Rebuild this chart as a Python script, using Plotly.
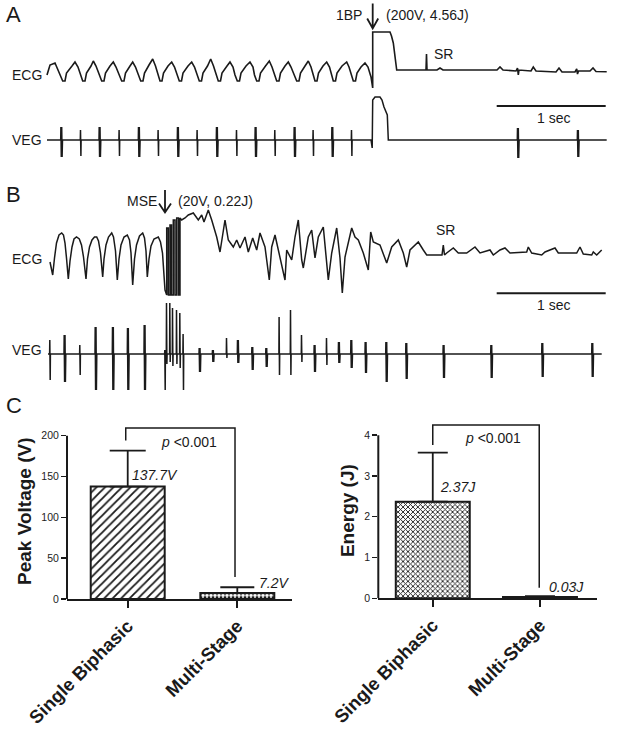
import plotly.graph_objects as go

W, H = 617, 731
FS = 109
INK = "#1a1a1a"
FONT = "Liberation Sans, Arial, sans-serif"

# ---------------- panel A : single biphasic shock ----------------
# surface ECG, (sample, amplitude)
ecg_a = [
    (7, -5), (10, 5), (15, 7), (19, -2), (22.7, -11), (25, -11), (26.5, -3), (32, 4), (35, 8), (38, 3), (40.5, -5),
    (42.7, -11), (45, -11), (46.5, -3), (51, 4), (53.3, 9), (56, 4), (59.5, -5),
    (61.7, -11), (64, -11), (65.5, -3), (70, 4), (73.3, 8), (76, 3), (79.5, -5),
    (81.7, -11), (84, -11), (85.5, -3), (90, 4), (92.7, 8), (95.5, 3), (98.5, -5),
    (100.7, -11), (103, -11), (104.5, -3), (109, 5), (112.7, 11), (115.5, 4), (118, -5),
    (120, -11), (122, -11), (123.5, -3), (128, 4), (131.7, 8), (134.5, 3), (137, -5),
    (139.3, -11), (141.5, -11), (143, -3), (148, 4), (151.7, 8), (154.5, 3), (157, -5),
    (159.3, -11), (161.5, -11), (163, -3), (167.5, 4), (170.7, 11), (173.5, 4), (176, -5),
    (178.3, -11), (180.5, -11), (182, -3), (187, 4), (190, 8), (193, 3), (195, -5),
    (197.3, -11), (199.5, -11), (201, -3), (206, 4), (210, 8), (213, 3), (214.5, -5),
    (216.7, -11), (219, -11), (220.5, -3), (225.5, 4), (229.3, 9), (232, 3), (234.5, -5),
    (236.7, -11), (239, -11), (240.5, -3), (245, 4), (248.3, 8), (251, 3), (254.5, -5),
    (256.7, -11), (259, -11), (260.5, -3), (265, 4), (268.3, 9), (271, 3), (273, -5),
    (275, -11), (277, -11), (278.5, -3), (283, 4), (286.7, 8), (289.5, 3), (291.5, -5),
    (293.3, -11), (295.5, -11), (297, -3), (302, 4), (306.7, 8), (309, 3), (311.5, -5),
    (313.3, -11), (315.5, -11), (317, -3), (321, 3), (325, 7), (328, 3), (331, -7),
    (332.7, -18), (332.7, 38), (350, 38), (351.5, 34), (353.3, 27), (355, 15), (356.7, 0),
    (386, 0), (386.5, 16), (387, 0), (397, 0), (400, 2), (403, 0),
    (457, 0), (460, 3), (463, 0), (476, -1), (477.5, 2), (478.3, -5), (479, 0),
    (491, -1), (493.3, 3), (496, -1), (516, -2), (519, 2), (522, -2),
    (535, -2), (536.7, 1), (537.5, -4), (538.5, -1), (550, -1), (553, 2), (556, -1.5), (566.7, -1.7),
]
# ventricular electrogram: paced spikes + shock artefact
veg_a_spike_t = [21.7, 40.7, 60, 79.3, 99.3, 118.3, 138.3, 157.3, 177.3, 196.7,
                 216, 235, 255, 273.3, 292.7, 311.7, 478.3, 538.3]
veg_a_spike_up = [13, 10, 13, 10, 13, 10, 13, 10, 13, 10, 13, 10, 13, 10, 13, 10, 12, 10]
veg_a_spike_dn = [-17, -16, -17, -16, -17, -16, -17, -16, -17, -16, -17, -16, -17, -16, -17, -16, -18, -17]
veg_a_wide = [1, 0, 1, 0, 1, 0, 1, 0, 1, 0, 1, 0, 1, 0, 1, 0, 1, 1]
veg_a_shock = [(331, 0), (332.2, -8), (332.7, 40), (335, 43), (340, 43), (342, 40),
               (344, 33), (346, 28), (347.3, 25), (348.3, 0)]

# ---------------- panel B : multi-stage electrotherapy ----------------
ecg_b = [
    (10, -9), (12.7, -22), (14.5, -5), (16.5, 10), (19, 18), (21.7, 20), (23.5, 18), (25, 10), (26.5, -5), (28.3, -26),
    (30, -8), (32, 6), (34, 14), (36.5, 16), (39.3, 14), (41.5, 8), (43.5, -4), (46, -26),
    (47.5, -6), (49.5, 6), (52, 13), (54.5, 16), (56.7, 16), (58.5, 12), (60.5, 0), (62.7, -24),
    (64, -6), (66, 8), (68.5, 16), (71.7, 20), (73.5, 16), (75.5, 2), (77.3, -27),
    (79, -6), (81, 8), (84, 16), (87.3, 18), (89.5, 13), (91, 0), (92.7, -32),
    (94.5, -6), (96.5, 8), (99.5, 17), (102.7, 20), (104.5, 15), (106, 2), (107.3, -24),
    (109, -6), (111, 7), (114, 14), (118.3, 16), (120.5, 11), (122.5, 0), (125, -37),
    (126.7, -42), (126.7, 25), (128.3, 25), (128.3, -42), (130, -42), (130, 28), (131.5, 28),
    (131.5, -42), (133.3, -42), (133.3, 33), (135, 33), (135, -42), (136.7, -42), (136.7, 35),
    (138.5, 35), (138.5, -42), (140, -42), (140, 35),
    (141.7, 33), (145, 35), (148.3, 38), (153.3, 40), (158.3, 33), (161.7, 38), (164, 31),
    (168.3, 43), (171.7, 33), (176.7, 16), (180, 1), (182.7, 16), (185, 33), (188.3, 13),
    (193.3, 6), (196.7, 13), (200, 5), (205, 16), (208.3, 1), (212.7, 15), (216.7, 3),
    (220, 20), (225, 6), (229.3, -27), (231.7, 6), (235, 18), (240, -4), (245, -27),
    (246.7, 3), (251.7, -7), (255, 16), (258.3, 33), (261.7, -7), (263.3, -15), (268.3, 16),
    (271.7, 23), (275, -5), (278.3, 16), (283.3, 26), (288.3, -27), (291.7, 0), (296.7, 25),
    (300, -5), (302.3, -40), (305, -4), (311.7, 25), (315, 16), (318.3, 13), (323.3, 0),
    (328.3, -17), (330.7, 21), (333.3, 11), (340, 8), (346.7, -10), (351.7, 6), (358.3, 13),
    (363.3, 0), (366.7, -14), (370, 3), (378.3, 11), (383.3, 3), (386.7, -2), (393.3, -2),
    (402, -2), (403.3, 8), (404.5, -2), (406.7, 0), (413.3, 5), (418.3, 0), (426.7, 0),
    (435, 6), (440, 0), (450, 3), (453.3, -2), (460, 3), (465, 5), (470, 0), (486.7, 1),
    (488.3, 6), (491.7, 0), (501.7, -2), (505, 1), (515, 5), (518.3, 0), (536.7, 0),
    (540, 6), (543.3, -1), (551.7, -2), (553.3, 1), (556.7, -2), (561.7, 3),
]
veg_b_spike_t = [10, 25, 40, 56, 73.3, 88.3, 105,
                 125, 126.7, 130, 132.7, 136.7, 140, 143.3,
                 160, 173.3, 186.7, 198.3, 212.7, 226.7, 239.3, 250.7, 261.7, 275,
                 286.7, 299.3, 311.7, 326, 346.7, 366.7, 404, 451.7, 502.7, 552.7]
veg_b_spike_up = [14, 19, 9, 27, 27, 26, 29,
                  4, 51, 51, 46, 44, 41, 20,
                  6, 4, 16, 14, 7, 6, 37, 44, 19, 9,
                  16, 12, 14, 12, 12, 11, 9, 9, 11, 11]
veg_b_spike_dn = [-26, -28, -21, -36, -36, -36, -36,
                  -36, -10, -8, -12, -10, -14, -36,
                  -18, -8, -4, -9, -16, -13, -21, -21, -8, -18,
                  -11, -9, -14, -19, -28, -25, -24, -24, -23, -23]
veg_b_wide = [0, 1, 0, 1, 1, 1, 1,
              0, 0, 0, 0, 0, 0, 0,
              1, 1, 0, 1, 1, 1, 0, 0, 0, 1,
              0, 1, 1, 1, 1, 1, 1, 1, 1, 1]

# ---------------- panel C : bar charts ----------------
groups = ["Single Biphasic", "Multi-Stage"]
voltage_mean = [137.7, 7.2]
voltage_sd = [44.0, 7.2]
energy_mean = [2.37, 0.03]
energy_sd = [1.2, 0.02]


def px(x):
    return x / W


def py(y):
    return 1 - y / H


def spike_train(times, up, dn, wide, start, end, extra=()):
    pts = [(start, 0), (end, 0)] + list(extra)
    for t, u, d, w in zip(times, up, dn, wide):
        if w:
            pts += [(t - 1, 0), (t - 0.8, u), (t - 0.4, d), (t, u), (t + 0.4, d), (t + 0.8, 0)]
        else:
            pts += [(t - 0.4, 0), (t - 0.2, u), (t + 0.2, d), (t + 0.4, 0)]
    pts.sort(key=lambda p: p[0])
    return [p[0] for p in pts], [p[1] for p in pts]


fig = go.Figure()


def add_line(t, v, ya, width=1.5):
    fig.add_trace(go.Scatter(x=list(t), y=list(v), mode="lines", xaxis="x", yaxis=ya,
                             line=dict(color=INK, width=width), hoverinfo="skip", showlegend=False))


add_line(*zip(*ecg_a), "y", width=1.6)
add_line(*spike_train(veg_a_spike_t, veg_a_spike_up, veg_a_spike_dn, veg_a_wide, 7, 566.7, veg_a_shock), "y2")
add_line(*zip(*ecg_b), "y3", width=1.5)
add_line(*spike_train(veg_b_spike_t, veg_b_spike_up, veg_b_spike_dn, veg_b_wide, 8, 561.7), "y4")


def add_bar(i, mean, sd, xa, ya, width, cap, marker):
    fig.add_trace(go.Bar(
        x=[i], y=[mean[i]], width=width, xaxis=xa, yaxis=ya, marker=marker,
        error_y=dict(type="data", symmetric=False, array=[sd[i]], arrayminus=[0],
                     color=INK, thickness=1.8, width=cap),
        hoverinfo="skip", showlegend=False))


outline = dict(color=INK, width=2)
add_bar(0, voltage_mean, voltage_sd, "x2", "y5", 0.675, 18,
        dict(color="white", line=outline,
             pattern=dict(shape="/", fgcolor=INK, bgcolor="white", size=6, solidity=0.3)))
add_bar(1, voltage_mean, voltage_sd, "x2", "y5", 0.675, 17,
        dict(color="white", line=outline,
             pattern=dict(shape=".", fgcolor=INK, bgcolor="white", size=4, solidity=0.45)))
add_bar(0, energy_mean, energy_sd, "x3", "y6", 0.69, 15,
        dict(color="white", line=outline,
             pattern=dict(shape="x", fgcolor=INK, bgcolor="white", size=3.5, solidity=0.45)))
add_bar(1, energy_mean, energy_sd, "x3", "y6", 0.69, 15,
        dict(color=INK, line=outline))

hidden = dict(visible=False, fixedrange=True, automargin=False)
bold_ticks = ["<b>%s</b>" % g for g in groups]
xbar = dict(tickvals=[0, 1], ticktext=bold_ticks, tickangle=-45, ticks="outside", ticklen=7,
            tickwidth=2, tickcolor=INK, showline=True, linewidth=2, linecolor=INK, automargin=False,
            tickfont=dict(size=18.5, color=INK), showgrid=False, zeroline=False, fixedrange=True)
ybar = dict(ticks="outside", ticklen=5, tickwidth=1.5, tickcolor=INK, showline=False, automargin=False,
            showgrid=False, zeroline=False, tickfont=dict(size=10.5, color="#222222"), fixedrange=True)

fig.update_layout(
    template="none",
    width=W, height=H, margin=dict(l=0, r=0, t=0, b=0, pad=0, autoexpand=False),
    paper_bgcolor="white", plot_bgcolor="rgba(0,0,0,0)",
    font=dict(family=FONT, color=INK, size=14), showlegend=False,
    xaxis=dict(domain=[0, 1], range=[-40, W - 40], anchor="y", **hidden),
    yaxis=dict(domain=[py(100), py(20)], range=[-30, 50], anchor="x", **hidden),
    yaxis2=dict(domain=[py(162), py(92)], range=[-22, 48], anchor="x", **hidden),
    yaxis3=dict(domain=[py(300), py(205)], range=[-47, 48], anchor="x", **hidden),
    yaxis4=dict(domain=[py(395), py(298)], range=[-41, 56], anchor="x", **hidden),
    xaxis2=dict(domain=[px(67), px(292)], range=[-0.554, 1.499], anchor="y5", **xbar),
    yaxis5=dict(domain=[py(599), py(423.4)], range=[0, 215], anchor="x2",
                tickvals=[0, 50, 100, 150, 200],
                title=dict(text="<b>Peak Voltage (V)</b>", font=dict(size=19, color=INK), standoff=4), **ybar),
    xaxis3=dict(domain=[px(378.3), px(596.7)], range=[-0.508, 1.529], anchor="y6", **xbar),
    yaxis6=dict(domain=[py(598.3), py(422.9)], range=[0, 4.3], anchor="x3",
                tickvals=[0, 1, 2, 3, 4],
                title=dict(text="<b>Energy (J)</b>", font=dict(size=19, color=INK), standoff=4), **ybar),
)


def arrow(xp, y_top, y_bot, head=10, half=5.5):
    x = px(xp)
    path = (f"M {x},{py(y_top)} L {x},{py(y_bot)} "
            f"M {px(xp - half)},{py(y_bot - head)} L {x},{py(y_bot)} L {px(xp + half)},{py(y_bot - head)}")
    return dict(type="path", xref="paper", yref="paper", path=path, line=dict(color=INK, width=1.8))


scale_start = 456.7
shapes = [
    # 1 sec scale bars (FS samples long)
    dict(type="line", xref="x", yref="paper", x0=scale_start, x1=scale_start + FS,
         y0=py(106), y1=py(106), line=dict(color=INK, width=2)),
    dict(type="line", xref="x", yref="paper", x0=scale_start, x1=scale_start + FS,
         y0=py(293.3), y1=py(293.3), line=dict(color=INK, width=2)),
    arrow(372.7, 3.5, 28.5),
    arrow(165, 190, 212.5, head=9, half=6),
    # y axis lines of the bar charts (stop at the top tick)
    dict(type="line", xref="x2 domain", yref="y5", x0=0, x1=0, y0=0, y1=200,
         line=dict(color=INK, width=2)),
    dict(type="line", xref="x3 domain", yref="y6", x0=0, x1=0, y0=0, y1=4,
         line=dict(color=INK, width=2)),
    # significance brackets
    dict(type="path", xref="x2", yref="y5", path="M -0.018,194 L -0.018,209.4 L 0.979,209.4 L 0.979,27",
         line=dict(color=INK, width=1.5)),
    dict(type="path", xref="x3", yref="y6", path="M 0,3.76 L 0,4.25 L 0.993,4.25 L 0.993,0.26",
         line=dict(color=INK, width=1.5)),
]
fig.update_layout(shapes=shapes)


def note(text, x, y, xref="paper", yref="paper", size=14, xanchor="left", yanchor="middle"):
    fig.add_annotation(text=text, x=x, y=y, xref=xref, yref=yref, showarrow=False,
                       xanchor=xanchor, yanchor=yanchor, font=dict(size=size, color=INK))


# panel letters
note("A", px(4), py(15), size=22)
note("B", px(4), py(194), size=22)
note("C", px(4), py(405), size=22)
# trace labels
note("ECG", px(44), py(75), xanchor="right")
note("VEG", px(44), py(140.5), xanchor="right")
note("ECG", px(44), py(259), xanchor="right")
note("VEG", px(44), py(350), xanchor="right")
# shock labels
note("1BP", px(364), py(15), xanchor="right")
note("(200V, 4.56J)", px(384), py(15))
note("SR", px(432), py(53.5))
note("MSE", px(159), py(200.5), xanchor="right")
note("(20V, 0.22J)", px(176), py(200.5))
note("SR", px(434), py(230))
note("1 sec", px(553), py(118.5), xanchor="center")
note("1 sec", px(553), py(305), xanchor="center")
# bar annotations
note("<i>137.7V</i>", 0.02, 152, "x2", "y5")
note("<i>7.2V</i>", 1.177, 19.6, "x2", "y5")
note("<i>p</i> &lt;0.001", 0.286, 192.6, "x2", "y5")
note("<i>2.37J</i>", 0.05, 2.735, "x3", "y6")
note("<i>0.03J</i>", 1.062, 0.284, "x3", "y6")
note("<i>p</i> &lt;0.001", 0.282, 3.94, "x3", "y6")

# the page body has a default 8px margin; drop it so the figure sits at the window origin
fig.write_html("out.html", config={"displayModeBar": False, "staticPlot": True},
               post_script="document.body.style.margin='0';")
